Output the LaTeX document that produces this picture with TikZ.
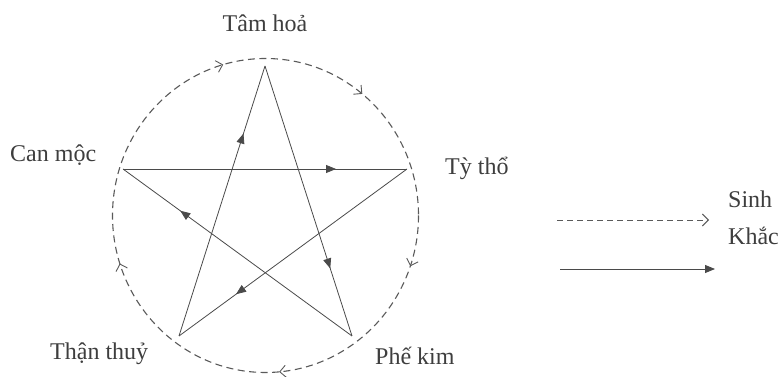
\documentclass[tikz,border=0pt]{standalone}
\usepackage{fontspec}
\setmainfont{Liberation Serif}
\usetikzlibrary{arrows.meta,decorations.markings}
\definecolor{ink}{HTML}{3E3E3E}
\definecolor{lineink}{HTML}{4A4A4A}
\definecolor{dashink}{HTML}{5A5A5A}
\begin{document}
\begin{tikzpicture}[x=1pt,y=1pt,
  lbl/.style={font=\fontsize{24}{26}\selectfont, text=ink, inner sep=0pt, anchor=base west},
  khac/.style={draw=lineink, line width=0.8pt, postaction={decorate},
    decoration={markings, mark=at position 0.75 with {\arrow{Triangle[length=10pt,width=8pt]}}}},
  sinharrow/.style={draw=dashink, line width=1.1pt, dash pattern=on 7pt off 4.5pt},
  sinhtip/.style={Straight Barb[length=6pt,width=12pt,line width=0.9pt]}
]
\useasboundingbox (0,0) rectangle (780,377);
\fill[white] (0,0) rectangle (780,377);

% vertices
\coordinate (hoa) at (265,311);
\coordinate (moc) at (123,208);
\coordinate (tho) at (407,208);
\coordinate (thuy) at (179,41);
\coordinate (kim) at (352,41);
\coordinate (ce) at (418.5,161.5);

% Sinh cycle (dashed ellipse, clockwise)
\draw[sinharrow, postaction={decorate},
  decoration={markings,
    mark=at position 0.053 with {\arrow[solid]{Straight Barb[length=6pt,width=12pt,line width=0.9pt]}},
    mark=at position 0.236 with {\arrow[solid]{Straight Barb[length=6pt,width=12pt,line width=0.9pt]}},
    mark=at position 0.45 with {\arrow[solid]{Straight Barb[length=6pt,width=12pt,line width=0.9pt]}},
    mark=at position 0.706 with {\arrow[solid]{Straight Barb[length=6pt,width=12pt,line width=0.9pt]}},
    mark=at position 0.858 with {\arrow[solid]{Straight Barb[length=6pt,width=12pt,line width=0.9pt]}}}]
  (ce) arc[start angle=0, end angle=-360, x radius=153, y radius=157];

% Khac star
\draw[khac] (moc) -- (tho);
\draw[khac] (tho) -- (thuy);
\draw[khac] (thuy) -- (hoa);
\draw[khac] (hoa) -- (kim);
\draw[khac] (kim) -- (moc);

% labels
\node[lbl, anchor=base] (lhoa) at (265,345) {Tâm hoả};
\node[lbl] (lmoc) at (10,215) {Can mộc};
\node[lbl] (ltho) at (445,202) {Tỳ thổ};
\node[lbl] (lthuy) at (50,17) {Thận thuỷ};
\node[lbl] (lkim) at (375,12) {Phế kim};

% legend
\coordinate (s1) at (557,157);
\coordinate (s2) at (709,157);
\coordinate (k1) at (560,108);
\coordinate (k2) at (715,108);
\draw[sinharrow, line width=0.9pt, dash pattern=on 6pt off 4pt, -{Straight Barb[length=6pt,width=12pt,line width=0.9pt]}] (s1) -- (s2);
\draw[draw=lineink, line width=0.9pt, -{Triangle[length=10pt,width=8pt]}] (k1) -- (k2);
\node[lbl] (lsinh) at (728,169) {Sinh};
\node[lbl] (lkhac) at (728,132) {Khắc};
\end{tikzpicture}
\end{document}
